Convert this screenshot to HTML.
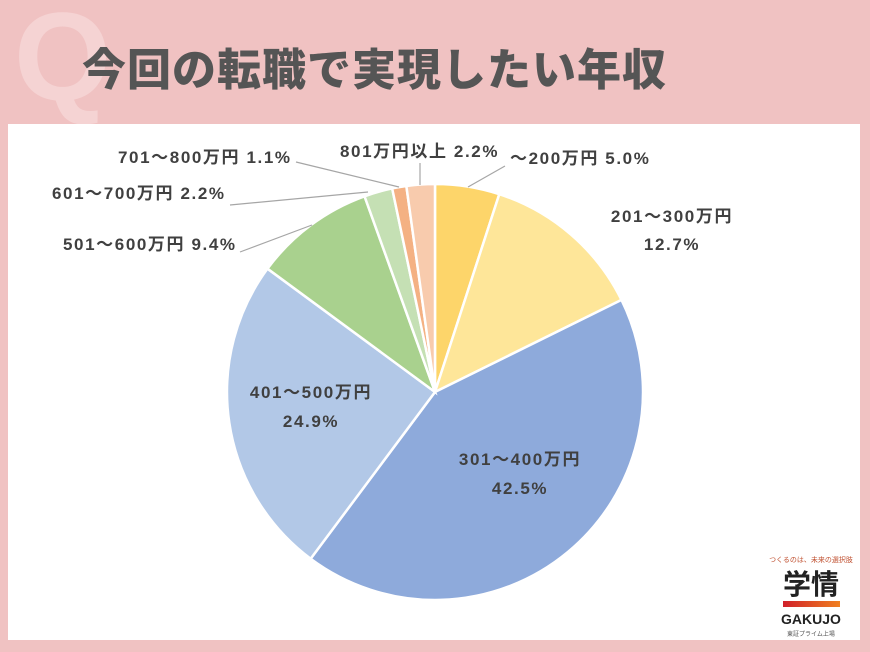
<!DOCTYPE html>
<html><head><meta charset="utf-8"><style>
body{margin:0;width:870px;height:652px;background:#f0c2c2;overflow:hidden;position:relative;font-family:"Liberation Sans","Noto Sans CJK JP",sans-serif}
.q{position:absolute;left:14px;top:-14px;font-size:125px;font-weight:bold;color:#f5d3d3}
.title{position:absolute;left:82px;top:41px;font-size:44px;line-height:60px;font-weight:900;color:#555;letter-spacing:1px}
.panel{position:absolute;left:8px;top:124px;width:852px;height:516px;background:#fff}
</style></head><body>
<div class="q">Q</div>
<div class="title">今回の転職で実現したい年収</div>
<div class="panel"></div>
<svg width="870" height="652" style="position:absolute;left:0;top:0" font-family="Liberation Sans,Noto Sans CJK JP,sans-serif">
<g id="pie" stroke="#fff" stroke-width="2.5"></g>
<g stroke="#a6a6a6" stroke-width="1.2" fill="none">
<line x1="505" y1="166" x2="468" y2="187"/>
<line x1="240" y1="252" x2="312" y2="225"/>
<line x1="230" y1="205" x2="368" y2="192"/>
<line x1="296" y1="162" x2="399" y2="187"/>
<line x1="420" y1="163" x2="420" y2="185"/>
</g>
<g fill="#404040" font-size="17" font-weight="bold" letter-spacing="1.6">
<text x="510" y="164">～200万円 5.0%</text>
<text x="672" y="222" text-anchor="middle">201～300万円</text>
<text x="672" y="250" text-anchor="middle">12.7%</text>
<text x="520" y="465" text-anchor="middle">301～400万円</text>
<text x="520" y="494" text-anchor="middle">42.5%</text>
<text x="311" y="398" text-anchor="middle">401～500万円</text>
<text x="311" y="427" text-anchor="middle">24.9%</text>
<text x="63" y="250">501～600万円 9.4%</text>
<text x="52" y="199">601～700万円 2.2%</text>
<text x="118" y="163">701～800万円 1.1%</text>
<text x="340" y="157">801万円以上 2.2%</text>
</g>
<g font-family="Liberation Sans,Noto Sans CJK JP,sans-serif">
<text x="811" y="562" font-size="7" fill="#c05030" text-anchor="middle">つくるのは、未来の選択肢</text>
<text x="811" y="594" font-size="28" font-weight="bold" fill="#222" text-anchor="middle">学情</text>
<defs><linearGradient id="gr"><stop offset="0" stop-color="#d0202a"/><stop offset="1" stop-color="#f08020"/></linearGradient></defs>
<rect x="783" y="601" width="57" height="6" fill="url(#gr)"/>
<text x="811" y="624" font-size="14" font-weight="bold" fill="#222" text-anchor="middle">GAKUJO</text>
<text x="811" y="636" font-size="6" fill="#555" text-anchor="middle">東証プライム上場</text>
</g>
</svg>
<script>
var d=[[5.0,"#fdd56a"],[12.7,"#fee699"],[42.5,"#8eaadb"],[24.9,"#b2c8e7"],[9.4,"#a9d18e"],[2.2,"#c5e0b4"],[1.1,"#f4b183"],[2.2,"#f8cbad"]];
var cx=435,cy=392,r=208,a=0,g=document.getElementById("pie"),s="";
d.forEach(function(e){var a0=a/100*2*Math.PI;a+=e[0];var a1=a/100*2*Math.PI;
var x0=cx+r*Math.sin(a0),y0=cy-r*Math.cos(a0),x1=cx+r*Math.sin(a1),y1=cy-r*Math.cos(a1);
s+='<path fill="'+e[1]+'" d="M'+cx+','+cy+'L'+x0+','+y0+'A'+r+','+r+' 0 '+(e[0]>50?1:0)+' 1 '+x1+','+y1+'Z"/>';});
g.innerHTML=s;
</script>
</body></html>
